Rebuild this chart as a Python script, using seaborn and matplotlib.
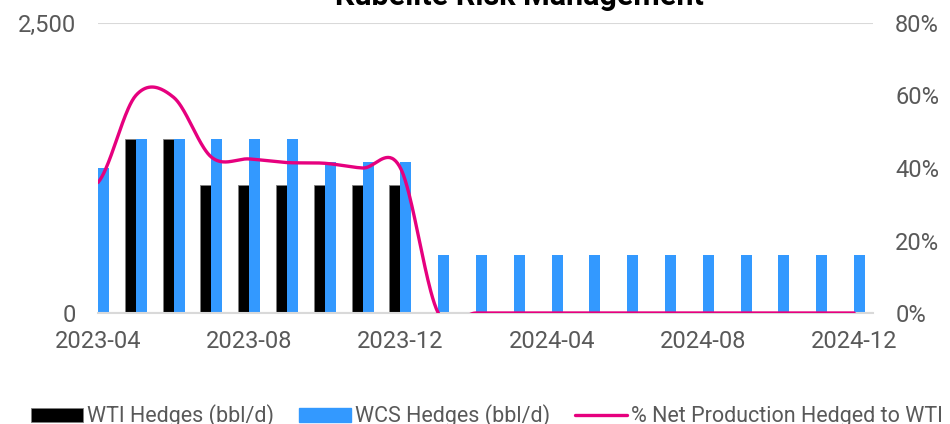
import numpy as np
import pandas as pd
import matplotlib
matplotlib.use('Agg')
import matplotlib.pyplot as plt
from matplotlib.patches import Patch
from matplotlib.lines import Line2D
from matplotlib.ticker import PercentFormatter
import seaborn as sns

months = ['2023-04', '2023-05', '2023-06', '2023-07', '2023-08', '2023-09', '2023-10',
          '2023-11', '2023-12', '2024-01', '2024-02', '2024-03', '2024-04', '2024-05',
          '2024-06', '2024-07', '2024-08', '2024-09', '2024-10', '2024-11', '2024-12']
wti_hedges = [0, 1500, 1500, 1100, 1100, 1100, 1100, 1100, 1100,
              0, 0, 0, 0, 0, 0, 0, 0, 0, 0, 0, 0]
wcs_hedges = [1250, 1500, 1500, 1500, 1500, 1500, 1300, 1300, 1300,
              500, 500, 500, 500, 500, 500, 500, 500, 500, 500, 500, 500]
pct_hedged = [0.36, 0.60, 0.595, 0.43, 0.425, 0.415, 0.413, 0.40, 0.40,
              0, 0, 0, 0, 0, 0, 0, 0, 0, 0, 0, 0]
tick_months = ['2023-04', '2023-08', '2023-12', '2024-04', '2024-08', '2024-12']
series_names = ['WTI Hedges (bbl/d)', 'WCS Hedges (bbl/d)', '% Net Production Hedged to WTI']

BLACK = '#000000'
BLUE = '#3399FF'
PINK = '#E6007E'
GRID = '#D9D9D9'
TXT = '#595959'

sns.set_theme(style='white')
plt.rcParams['font.family'] = ['Roboto', 'DejaVu Sans']


def smooth(vals, steps=40):
    # catmull-rom, like the smoothed line in the spreadsheet chart
    y = np.asarray(vals, dtype=float)
    n = len(y)
    xs, ys = [], []
    for i in range(n - 1):
        p0 = y[i - 1] if i > 0 else y[i]
        p1, p2 = y[i], y[i + 1]
        p3 = y[i + 2] if i + 2 < n else y[i + 1]
        m1 = (p2 - p0) / 2
        m2 = (p3 - p1) / 2
        t = np.linspace(0, 1, steps, endpoint=(i == n - 2))
        h00 = 2 * t**3 - 3 * t**2 + 1
        h10 = t**3 - 2 * t**2 + t
        h01 = -2 * t**3 + 3 * t**2
        h11 = t**3 - t**2
        xs.append(i + t)
        ys.append(h00 * p1 + h10 * m1 + h01 * p2 + h11 * m2)
    return np.concatenate(xs), np.concatenate(ys)


df = pd.DataFrame({
    'month': months * 2,
    'series': [series_names[0]] * len(months) + [series_names[1]] * len(months),
    'value': wti_hedges + wcs_hedges,
})

fig = plt.figure(figsize=(9.5, 4.24), dpi=100)
ax = fig.add_axes([98 / 950, 1 - 313 / 424, 775 / 950, 290 / 424])

sns.barplot(data=df, x='month', y='value', hue='series', order=months,
            hue_order=series_names[:2], palette=[BLACK, BLUE],
            width=0.58, gap=0, errorbar=None, legend=False,
            linewidth=0, saturation=1, ax=ax)
for bar in ax.containers[0]:
    if bar.get_height() > 0:
        bar.set_edgecolor('#7F7F7F')
        bar.set_linewidth(0.6)

ax.set_xlim(0, 20.5)
ax.set_ylim(0, 2500)
ax.set_yticks([0, 2500])
ax.set_yticklabels(['0', '2,500'])
ax.set_xticks([months.index(m) for m in tick_months])
ax.set_xticklabels(tick_months)
ax.set_xlabel('')
ax.set_ylabel('')
ax.grid(axis='y', color=GRID, linewidth=1.5)
ax.grid(axis='x', visible=False)
for side in ['top', 'left', 'right']:
    ax.spines[side].set_visible(False)
ax.spines['bottom'].set_color(GRID)
ax.spines['bottom'].set_linewidth(1.5)
ax.tick_params(axis='y', length=0, pad=16, labelsize=17, labelcolor=TXT)
ax.tick_params(axis='x', length=0, pad=12, labelsize=17, labelcolor=TXT)

ax2 = ax.twinx()
lx, ly = smooth(pct_hedged)
sns.lineplot(x=lx, y=ly, ax=ax2, color=PINK, linewidth=2.4,
             sort=False, estimator=None)
ax2.set_ylim(0, 0.8)
ax2.set_yticks([0, 0.2, 0.4, 0.6, 0.8])
ax2.yaxis.set_major_formatter(PercentFormatter(1.0, decimals=0))
ax2.set_ylabel('')
ax2.set_xlim(0, 20.5)
for side in ax2.spines:
    ax2.spines[side].set_visible(False)
ax2.tick_params(axis='y', length=0, pad=16, labelsize=17, labelcolor=TXT)

fig.text(519 / 950, 1 - 5 / 424, 'Kubelite Risk Management', ha='center',
         va='baseline', fontsize=22, fontweight='bold', color='black')

handles = [Patch(facecolor=BLACK, edgecolor='#7F7F7F', linewidth=0.6),
           Patch(facecolor=BLUE, edgecolor=BLUE),
           Line2D([], [], color=PINK, linewidth=2.4)]
fig.legend(handles, series_names, loc='center', ncol=3,
           bbox_to_anchor=(487 / 950, 1 - 416 / 424), frameon=False,
           fontsize=15.5, labelcolor=TXT, handlelength=2.4, handleheight=0.65,
           handletextpad=0.2, columnspacing=1.15, borderpad=0, borderaxespad=0)

fig.savefig('out.png', dpi=100)
